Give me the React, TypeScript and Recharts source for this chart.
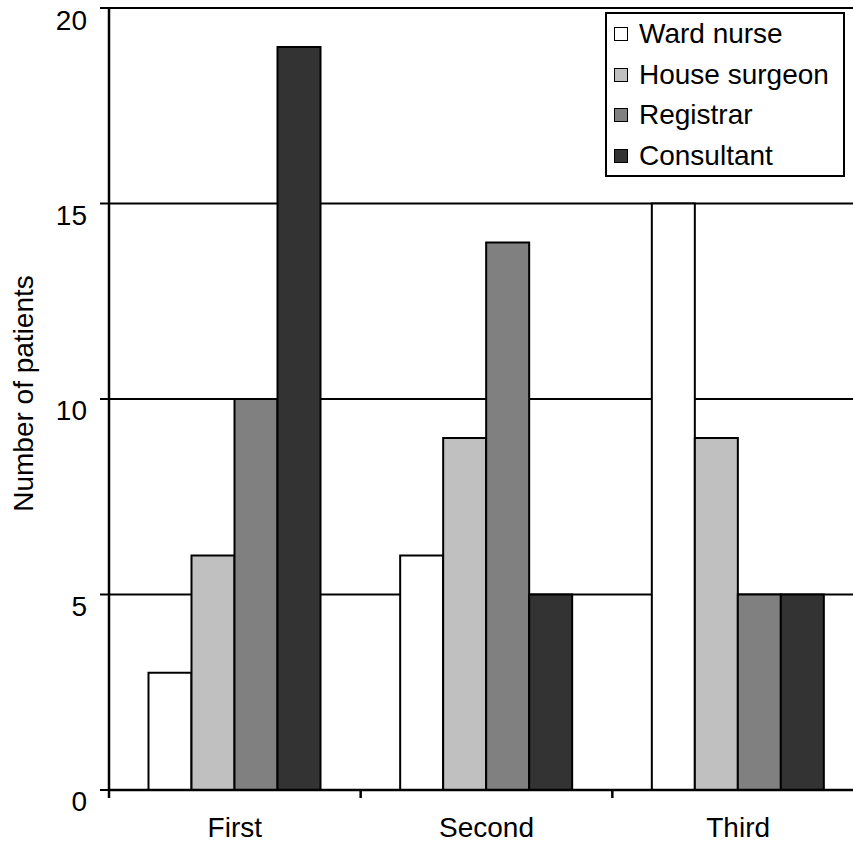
import React from 'react';
import { BarChart, Bar, XAxis, YAxis, CartesianGrid, Legend } from 'recharts';

const categories = ['First', 'Second', 'Third'];
const wardNurse = [3, 6, 15];
const houseSurgeon = [6, 9, 9];
const registrar = [10, 14, 5];
const consultant = [19, 5, 5];
const yTicks = [0, 5, 10, 15, 20];

const seriesNames = ['Ward nurse', 'House surgeon', 'Registrar', 'Consultant'];
const seriesColors = ['#ffffff', '#c0c0c0', '#808080', '#333333'];
const seriesKeys = ['ward', 'house', 'registrar', 'consultant'];

const data = categories.map((c, i) => ({
  category: c,
  ward: wardNurse[i],
  house: houseSurgeon[i],
  registrar: registrar[i],
  consultant: consultant[i],
}));

const FONT = '"Liberation Sans", Arial, sans-serif';
const FS = 28;
const CHART_W = 864;
const CHART_H = 843;
const Y_AXIS_W = 109;
const X_AXIS_H = 53;
const MARGIN = { top: 8, right: 0, bottom: 0, left: 0 };
const BAND = (CHART_W - Y_AXIS_W - MARGIN.left - MARGIN.right) / categories.length;

const YTick = (props: any) => {
  const { x, y, payload } = props;
  return (
    <text x={x} y={y + 21} textAnchor="end" fontFamily={FONT} fontSize={FS} fill="#000">
      {payload.value}
    </text>
  );
};

const XTick = (props: any) => {
  const { x, y, payload } = props;
  const left = x - BAND / 2;
  return (
    <g>
      <line x1={left} x2={left} y1={y} y2={y + 8} stroke="#000" strokeWidth={2.5} />
      <text x={x} y={y + 47} textAnchor="middle" fontFamily={FONT} fontSize={FS} fill="#000">
        {payload.value}
      </text>
    </g>
  );
};

const YLabel = (props: any) => {
  const vb = props.viewBox || { x: 0, y: 8, width: 109, height: 782 };
  const cx = 33;
  const cy = vb.y + vb.height / 2 - 5.5;
  return (
    <text
      x={cx}
      y={cy}
      textAnchor="middle"
      transform={`rotate(-90, ${cx}, ${cy})`}
      fontFamily={FONT}
      fontSize={FS}
      fill="#000"
    >
      Number of patients
    </text>
  );
};

const LegendBox = () => {
  return (
    <div
      style={{
        width: 240,
        height: 165,
        boxSizing: 'border-box',
        border: '2px solid #000',
        background: '#fff',
        paddingLeft: 7,
        fontFamily: FONT,
        fontSize: FS,
        color: '#000',
      }}
    >
      {seriesNames.map((name, i) => (
        <div key={name} style={{ display: 'flex', alignItems: 'center', height: 40.5 }}>
          <span
            style={{
              display: 'inline-block',
              width: 14,
              height: 14,
              boxSizing: 'border-box',
              border: '1.5px solid #000',
              background: seriesColors[i],
            }}
          />
          <span style={{ marginLeft: 11, lineHeight: '40px' }}>{name}</span>
        </div>
      ))}
    </div>
  );
};

export default function App() {
  return (
    <div
      style={{
        position: 'absolute',
        left: 0,
        top: 0,
        width: 853,
        height: 843,
        overflow: 'hidden',
        background: '#fff',
      }}
    >
      <BarChart
        width={CHART_W}
        height={CHART_H}
        data={data}
        margin={MARGIN}
        barCategoryGap={39.5}
        barGap={0}
      >
        <CartesianGrid vertical={false} stroke="#000" strokeWidth={2} />
        <XAxis
          dataKey="category"
          height={X_AXIS_H}
          axisLine={{ stroke: '#000', strokeWidth: 2.5 }}
          tickLine={false}
          tickSize={0}
          tickMargin={0}
          tick={<XTick />}
          interval={0}
        />
        <YAxis
          width={Y_AXIS_W}
          domain={[0, 20]}
          ticks={yTicks}
          axisLine={{ stroke: '#000', strokeWidth: 2.5 }}
          tickLine={{ stroke: '#000', strokeWidth: 2 }}
          tickSize={9}
          tickMargin={13}
          tick={<YTick />}
          label={<YLabel />}
        />
        <Legend
          layout="vertical"
          align="center"
          verticalAlign="middle"
          wrapperStyle={{ left: 605, top: 12, width: 240, height: 165 }}
          content={<LegendBox />}
        />
        {seriesKeys.map((k, i) => (
          <Bar
            key={k}
            dataKey={k}
            name={seriesNames[i]}
            fill={seriesColors[i]}
            stroke="#000"
            strokeWidth={2}
            isAnimationActive={false}
          />
        ))}
      </BarChart>
    </div>
  );
}
